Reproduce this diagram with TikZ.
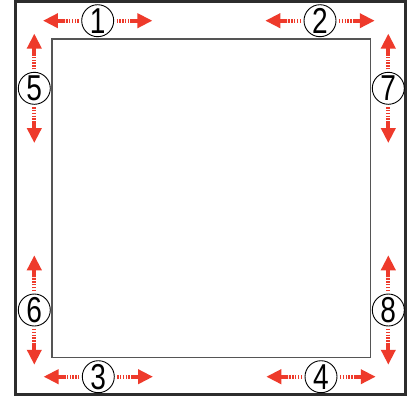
\documentclass[tikz,border=0pt]{standalone}
\usepackage{fontspec}
\setmainfont{Liberation Sans}
\usetikzlibrary{arrows.meta,calc}
\definecolor{arred}{RGB}{238,58,43}
\definecolor{frame}{RGB}{45,45,45}
\definecolor{inner}{RGB}{85,85,85}
\tikzset{
  num/.style={circle,draw=black,line width=0.9pt,minimum size=32pt,inner sep=0pt,
    font=\fontsize{36}{36}\selectfont},
  dsh/.style={draw=arred,line width=4.2pt,dash pattern=on 1.4pt off 1.4pt},
  sld/.style={draw=arred,line width=4.2pt,-{Triangle[length=15pt,width=14pt]}},
}
\newcommand\myarrow[3]{%
  \draw[dsh] ($(#1)+({2.5*(#2)},{2.5*(#3)})$) -- ++({14*(#2)},{14*(#3)});
  \draw[sld] ($(#1)+({16.3*(#2)},{16.3*(#3)})$) -- ++({22*(#2)},{22*(#3)});
}
\newcommand\dg[1]{\scalebox{0.78}[1]{#1}}
\begin{document}
\begin{tikzpicture}[x=1pt,y=-1pt]
\useasboundingbox (0,0) rectangle (409,402);
\fill[white] (0,0) rectangle (409,402);
\draw[frame,line width=3pt] (15.5,1.8) rectangle (405.5,394.5);
\draw[inner,line width=1.3pt] (52,39) rectangle (370.5,357.5);
\node[num] (c1) at (97.7,20.7) {\dg{1}};
\node[num] (c2) at (320,20.7) {\dg{2}};
\node[num] (c3) at (98.3,376.7) {\dg{3}};
\node[num] (c4) at (321,376.7) {\dg{4}};
\node[num] (c5) at (34.3,88.3) {\dg{5}};
\node[num] (c6) at (34.3,310) {\dg{6}};
\node[num] (c7) at (388.3,88.3) {\dg{7}};
\node[num] (c8) at (388.3,310) {\dg{8}};
\foreach \c in {c1,c2,c3,c4}{
  \myarrow{\c.west}{-1}{0}
  \myarrow{\c.east}{1}{0}
}
\foreach \c in {c5,c6,c7,c8}{
  \myarrow{\c.north}{0}{-1}
  \myarrow{\c.south}{0}{1}
}
\end{tikzpicture}
\end{document}
